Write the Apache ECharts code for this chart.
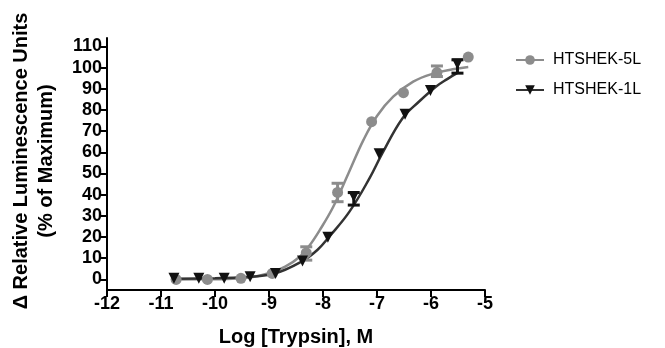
<!DOCTYPE html>
<html>
<head>
<meta charset="utf-8">
<script src="https://cdn.jsdelivr.net/npm/echarts@6/dist/echarts.min.js"></script>
<style>
  html, body { margin: 0; padding: 0; background: #fff; }
  #chart { width: 665px; height: 348px; }
</style>
</head>
<body>
<div id="chart"></div>
<script>
// 图例名称
const seriesNames = ['HTSHEK-5L', 'HTSHEK-1L']

// 测量点 [log 浓度, 响应 %]
const points5L = [[-10.72, 0], [-10.14, 0], [-9.52, 0.5], [-8.94, 2.8], [-8.31, 12.5], [-7.73, 41.1], [-7.10, 74.5], [-6.51, 88.2], [-5.89, 97.7], [-5.31, 105]]
const points1L = [[-10.76, 0.5], [-10.30, 0.5], [-9.83, 0.5], [-9.35, 1.2], [-8.88, 2.8], [-8.38, 8.7], [-7.91, 19.9], [-7.43, 39.1], [-6.96, 59.3], [-6.48, 78], [-6.01, 89.2], [-5.51, 101.7]]

// 误差线 [x, 下限, 上限]
const errors5L = [[-8.31, 9.1, 15.4], [-7.73, 36.7, 45.4], [-5.89, 95.8, 100.8]]
const errors1L = [[-7.43, 35.1, 41], [-5.51, 97.4, 103.7]]

// 拟合曲线
const curve5L = [[-10.8, 0], [-10.0, 0.1], [-9.5, 0.5], [-8.98, 3.1], [-8.7, 6], [-8.43, 10.7], [-8.25, 16], [-8.06, 23.3], [-7.81, 34.3], [-7.53, 50], [-7.25, 65.9], [-7.0, 77.2], [-6.7, 86.3], [-6.33, 93.4], [-5.96, 97.2], [-5.6, 99.2], [-5.31, 100.3]]
const curve1L = [[-10.8, 0.3], [-10.0, 0.6], [-9.5, 1.0], [-8.9, 2.8], [-8.38, 8.7], [-8.1, 14], [-7.88, 20.3], [-7.51, 32], [-7.14, 47.7], [-6.9, 59.6], [-6.53, 76], [-6.22, 84], [-5.91, 91], [-5.7, 94.6], [-5.51, 97.5]]

// 坐标轴刻度
const yTicks = [0, 10, 20, 30, 40, 50, 60, 70, 80, 90, 100, 110]

const gray = '#8c8c8c'
const black = '#111111'
const font = 'Liberation Sans, Arial, sans-serif'

// 误差线绘制
function errorBarItem(params, api) {
  const x = api.value(0)
  const lo = api.coord([x, api.value(1)])
  const hi = api.coord([x, api.value(2)])
  const half = 6
  const style = { stroke: api.visual('color'), lineWidth: 3 }
  return {
    type: 'group',
    children: [
      { type: 'line', shape: { x1: lo[0], y1: lo[1], x2: hi[0], y2: hi[1] }, style },
      { type: 'line', shape: { x1: lo[0] - half, y1: lo[1], x2: lo[0] + half, y2: lo[1] }, style },
      { type: 'line', shape: { x1: hi[0] - half, y1: hi[1], x2: hi[0] + half, y2: hi[1] }, style }
    ]
  }
}

const axisCommon = {
  axisLine: { show: true, onZero: false, lineStyle: { color: '#000', width: 2 } },
  axisTick: { show: true, length: 7, lineStyle: { color: '#000', width: 2 } },
  splitLine: { show: false },
  axisLabel: { color: '#000', fontWeight: 'bold', fontSize: 18, fontFamily: font, margin: 5 }
}

const option = {
  animation: false,
  backgroundColor: '#fff',
  grid: { left: 107, right: 180, top: 38, bottom: 58 },
  xAxis: {
    type: 'value',
    min: -12,
    max: -5,
    interval: 1,
    ...axisCommon
  },
  yAxis: {
    type: 'value',
    min: -5,
    max: 114,
    ...axisCommon,
    axisTick: { ...axisCommon.axisTick, customValues: yTicks },
    axisLabel: { ...axisCommon.axisLabel, customValues: yTicks }
  },
  legend: {
    data: seriesNames,
    orient: 'vertical',
    left: 510,
    top: 47,
    itemWidth: 28,
    itemHeight: 12,
    itemGap: 14,
    textStyle: { color: '#000', fontSize: 16, fontFamily: font, padding: [0, 0, 0, 4] }
  },
  graphic: {
    elements: [
      {
        type: 'text',
        x: 21,
        y: 161,
        rotation: Math.PI / 2,
        style: {
          text: 'Δ Relative Luminescence Units',
          font: 'bold 20px Liberation Sans, Arial, sans-serif',
          fill: '#000',
          align: 'center',
          verticalAlign: 'middle'
        }
      },
      {
        type: 'text',
        x: 46,
        y: 161,
        rotation: Math.PI / 2,
        style: {
          text: '(% of Maximum)',
          font: 'bold 20px Liberation Sans, Arial, sans-serif',
          fill: '#000',
          align: 'center',
          verticalAlign: 'middle'
        }
      },
      {
        type: 'text',
        x: 296,
        y: 337,
        style: {
          text: 'Log [Trypsin], M',
          font: 'bold 20px Liberation Sans, Arial, sans-serif',
          fill: '#000',
          align: 'center',
          verticalAlign: 'middle'
        }
      }
    ]
  },
  series: [
    {
      name: seriesNames[0],
      type: 'line',
      data: curve5L,
      smooth: 0.4,
      symbol: 'circle',
      showSymbol: false,
      color: gray,
      lineStyle: { color: gray, width: 2.5 },
      itemStyle: { color: gray },
      z: 2
    },
    {
      name: seriesNames[1],
      type: 'line',
      data: curve1L,
      smooth: 0.4,
      symbol: 'triangle',
      symbolRotate: 180,
      showSymbol: false,
      color: black,
      lineStyle: { color: '#333', width: 2.5 },
      itemStyle: { color: black },
      z: 2
    },
    {
      name: 'err5L',
      type: 'custom',
      data: errors5L,
      encode: { x: 0, y: [1, 2] },
      renderItem: errorBarItem,
      itemStyle: { color: gray },
      z: 3
    },
    {
      name: 'err1L',
      type: 'custom',
      data: errors1L,
      encode: { x: 0, y: [1, 2] },
      renderItem: errorBarItem,
      itemStyle: { color: black },
      z: 3
    },
    {
      name: 'pts5L',
      type: 'scatter',
      data: points5L,
      symbol: 'circle',
      symbolSize: 11,
      itemStyle: { color: gray, opacity: 1 },
      z: 4
    },
    {
      name: 'pts1L',
      type: 'scatter',
      data: points1L,
      symbol: 'triangle',
      symbolRotate: 180,
      symbolSize: 11,
      itemStyle: { color: black, opacity: 1 },
      z: 5
    }
  ]
}

const chart = echarts.init(document.getElementById('chart'))
chart.setOption(option)
</script>
</body>
</html>
